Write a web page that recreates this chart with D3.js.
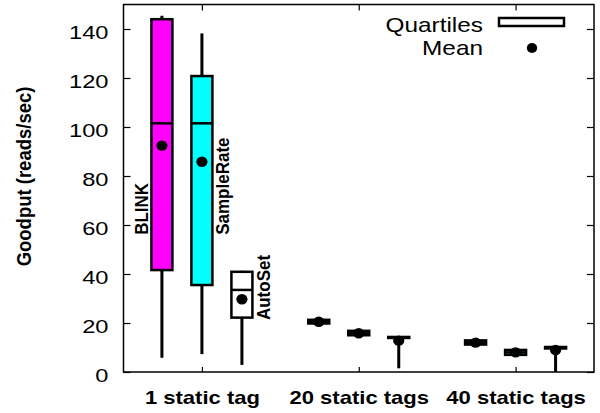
<!DOCTYPE html>
<html>
<head>
<meta charset="utf-8">
<script src="https://cdn.jsdelivr.net/npm/d3@7"></script>
<style>
  body { margin: 0; background: #fff; }
  svg { display: block; }
  text { font-family: "Liberation Sans", Arial, Helvetica, sans-serif; fill: #000; }
</style>
</head>
<body>
<svg id="chart" width="600" height="413"></svg>
<script>
// ---- data ----
const categories = ["1 static tag", "20 static tags", "40 static tags"];
const seriesNames = ["BLINK", "SampleRate", "AutoSet"];
const seriesColors = ["#ff00ff", "#00ffff", "#ffffff"];
// per series, per category: [whiskerMin, q1, median, q3, whiskerMax, mean]
const blinkStats = [
  [5.8, 41.6, 101.5, 144.0, 145.4, 92.4],
  [19.6, 19.8, 20.5, 21.3, 21.5, 20.5],
  [11.0, 11.2, 12.0, 12.9, 13.1, 12.0]
];
const sampleRateStats = [
  [7.3, 35.5, 101.5, 120.8, 138.2, 85.8],
  [14.8, 15.0, 15.8, 16.8, 17.0, 15.8],
  [6.7, 7.0, 8.0, 9.0, 9.3, 8.0]
];
const autoSetStats = [
  [2.9, 22.2, 33.5, 40.9, 41.3, 29.7],
  [1.5, 13.9, 14.1, 14.3, 14.4, 12.8],
  [0.0, 9.6, 9.9, 10.2, 10.3, 9.0]
];
const yTicks = [0, 20, 40, 60, 80, 100, 120, 140];
const seriesOffsets = [-1, 0, 1];

// ---- layout ----
const svg = d3.select("#chart");
const L = 123.5, R = 594, T = 4.5, B = 372;
const x = d3.scaleLinear().domain([0.5, 3.5]).range([L, R]);
const y = d3.scaleLinear().domain([0, 150]).range([B, T]);
const off = 40, boxW = 21;

const allStats = [blinkStats, sampleRateStats, autoSetStats];

// boxes
allStats.forEach((stats, si) => {
  const g = svg.append("g");
  stats.forEach((s, ci) => {
    const cx = x(ci + 1) + seriesOffsets[si] * off;
    const [wmin, q1, med, q3, wmax, mean] = s;
    g.append("line").attr("x1", cx).attr("x2", cx).attr("y1", y(wmin)).attr("y2", y(q1))
      .attr("stroke", "#000").attr("stroke-width", 3);
    g.append("line").attr("x1", cx).attr("x2", cx).attr("y1", y(q3)).attr("y2", y(wmax))
      .attr("stroke", "#000").attr("stroke-width", 3);
    g.append("rect").attr("x", cx - boxW / 2).attr("width", boxW)
      .attr("y", y(q3)).attr("height", Math.max(y(q1) - y(q3), 0.5))
      .attr("fill", seriesColors[si]).attr("stroke", "#000").attr("stroke-width", 2.5);
    g.append("line").attr("x1", cx - boxW / 2).attr("x2", cx + boxW / 2)
      .attr("y1", y(med)).attr("y2", y(med)).attr("stroke", "#000").attr("stroke-width", 2.5);
    g.append("ellipse").attr("cx", cx).attr("cy", y(mean)).attr("rx", 5.6).attr("ry", 5.2)
      .attr("fill", "#000");
  });
});

// frame
svg.append("rect").attr("x", L).attr("y", T).attr("width", R - L).attr("height", B - T)
  .attr("fill", "none").attr("stroke", "#000").attr("stroke-width", 1.5);

// axes (ticks inward)
const yAxis = svg.append("g").attr("transform", `translate(${L},0)`)
  .call(d3.axisLeft(y).tickValues(yTicks).tickSize(-7).tickSizeOuter(0).tickPadding(0));
yAxis.select(".domain").remove();
yAxis.selectAll("line").attr("stroke-width", 1.2);
const sx = 1.28;
yAxis.selectAll("text")
  .attr("x", -15 / sx).attr("dy", "0.5em")
  .attr("transform", `scale(${sx},1)`)
  .style("font-size", "18.5px").style("font-family", "Liberation Sans, Arial, sans-serif");

const yAxisR = svg.append("g").attr("transform", `translate(${R},0)`)
  .call(d3.axisRight(y).tickValues(yTicks).tickSize(-7).tickSizeOuter(0).tickFormat(""));
yAxisR.select(".domain").remove();
yAxisR.selectAll("line").attr("stroke-width", 1.2);

const xAxis = svg.append("g").attr("transform", `translate(0,${B})`)
  .call(d3.axisBottom(x).tickValues([1, 2, 3]).tickSize(-5).tickSizeOuter(0)
    .tickFormat((d) => categories[d - 1]));
xAxis.select(".domain").remove();
xAxis.selectAll("line").attr("stroke-width", 1.2);
const bx = 1.16;
xAxis.selectAll("text")
  .attr("y", 32).attr("dy", 0).attr("x", 0)
  .attr("transform", `scale(${bx},1)`)
  .style("font-size", "19px").style("font-weight", "bold")
  .style("font-family", "Liberation Sans, Arial, sans-serif");

const xAxisT = svg.append("g").attr("transform", `translate(0,${T})`)
  .call(d3.axisTop(x).tickValues([1, 2, 3]).tickSize(-6).tickSizeOuter(0).tickFormat(""));
xAxisT.select(".domain").remove();
xAxisT.selectAll("line").attr("stroke-width", 1.2);

// y title
svg.append("text")
  .attr("transform", "translate(31,176.5) scale(1.12,1) rotate(-90)")
  .attr("text-anchor", "middle")
  .style("font-size", "18.5px").style("font-weight", "bold")
  .text("Goodput (reads/sec)");

// series labels (rotated)
const labelSpecs = [
  { si: 0, ci: 0, bx: 148 - x(1), val: 56 },
  { si: 1, ci: 0, bx: 229 - x(1), val: 56 },
  { si: 2, ci: 0, bx: 270 - x(1), val: 21.2 }
];
labelSpecs.forEach((l) => {
  svg.append("text")
    .attr("transform", `translate(${x(l.ci + 1) + l.bx},${y(l.val)}) scale(1.08,1) rotate(-90)`)
    .attr("text-anchor", "start")
    .style("font-size", "17px").style("font-weight", "bold")
    .text(seriesNames[l.si]);
});

// legend
const lg = svg.append("g");
lg.append("text").attr("transform", "translate(483,32) scale(1.16,1)")
  .attr("text-anchor", "end").style("font-size", "21px").text("Quartiles");
lg.append("text").attr("transform", "translate(483,55) scale(1.16,1)")
  .attr("text-anchor", "end").style("font-size", "21px").text("Mean");
lg.append("rect").attr("x", 499).attr("y", 18).attr("width", 65).attr("height", 8)
  .attr("fill", "#fff").attr("stroke", "#000").attr("stroke-width", 2.5);
lg.append("ellipse").attr("cx", 532).attr("cy", 48).attr("rx", 5.2).attr("ry", 5).attr("fill", "#000");
</script>
</body>
</html>
